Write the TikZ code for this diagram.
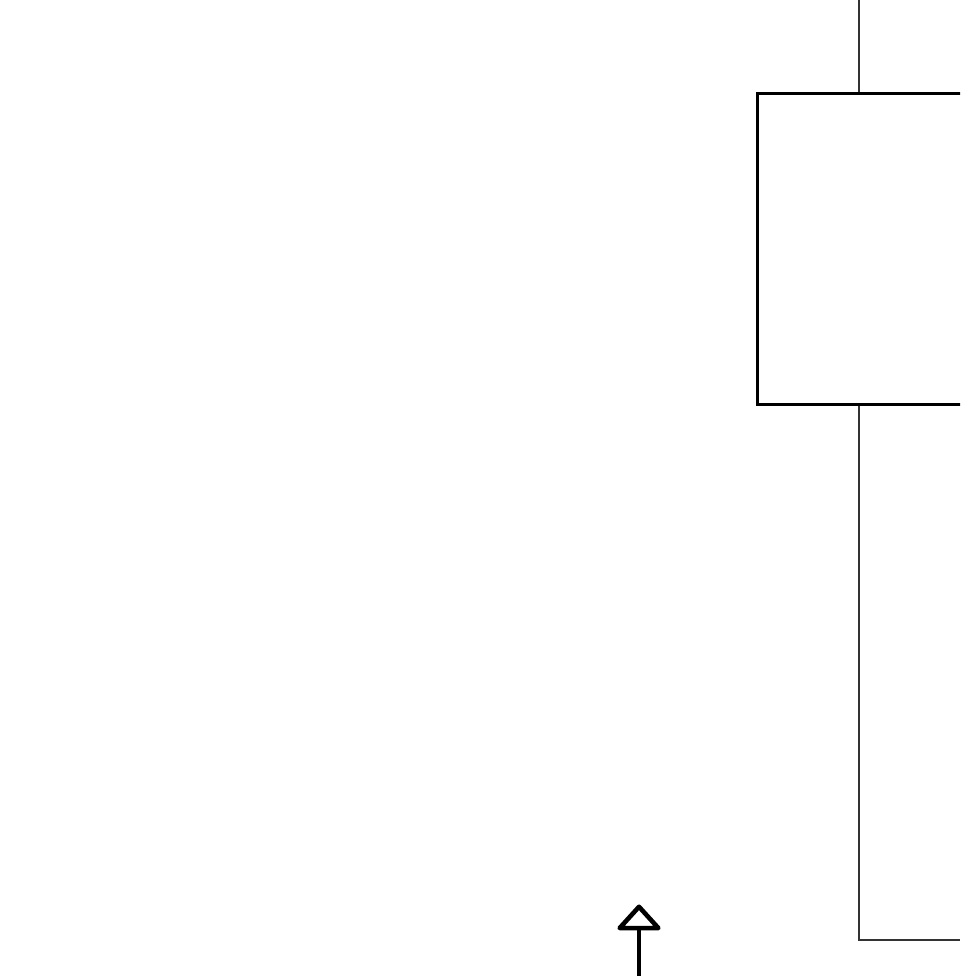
\documentclass[tikz,border=0pt]{standalone}
\usepackage{tikz}
\usetikzlibrary{positioning,arrows.meta,calc}

\begin{document}
\begin{tikzpicture}[
          x=1cm, y=1cm,
          blkbox/.style={draw, line width=0.85pt, minimum width=2.6cm, minimum height=3.11cm, inner sep=0pt, anchor=west},
          wire/.style={draw, line width=0.4pt, black!80},
          uparr/.style={line width=1.2pt, -{Triangle[open, length=2.7mm, width=4.8mm, line width=1.3pt, round]}}
      ]
        \clip (0,0) rectangle (9.6,9.76);
        \useasboundingbox (0,0) rectangle (9.6,9.76);
        \node[blkbox] (blk) at (7.56,7.27) {};
        \coordinate (topin) at (8.59,9.76);
        \coordinate (botout) at (9.6,0.36);
        \coordinate (arrfoot) at (6.39,0);
        \coordinate (arrtip) at (6.39,0.715);
        \draw[wire] (topin) -- (topin |- blk.north);
        \draw[wire] (topin |- blk.south) |- (botout);
        \draw[uparr] (arrfoot) -- (arrtip);
      \end{tikzpicture}
\end{document}
